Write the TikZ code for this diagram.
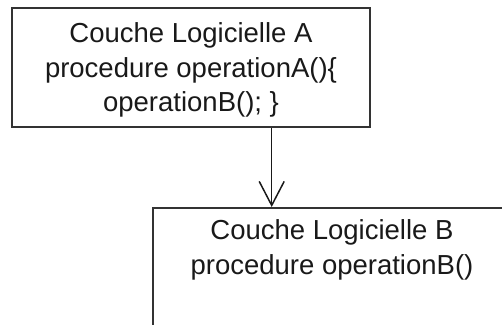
\documentclass[tikz,border=0pt]{standalone}
\usepackage{fontspec}
\setmainfont{Liberation Sans}
\usetikzlibrary{arrows.meta}
\begin{document}
\begin{tikzpicture}[x=1pt,y=-1pt,
  layerbox/.style={draw=black!80,line width=2pt,inner sep=0pt},
  layertext/.style={font=\fontsize{27.5}{34.5}\selectfont,align=center,inner sep=0pt,text=black!90},
  calls/.style={draw=black!90,line width=1.5pt,-{Straight Barb[length=24pt,width=25pt]}}]
  \useasboundingbox (0,0) rectangle (502,324);
  \clip (0,0) rectangle (502,324);
  % upper layer
  \node[layerbox,minimum width=358pt,minimum height=119pt,anchor=north west] (A) at (10.7,7) {};
  \node[layertext] (tA) at (191,70) {Couche Logicielle A\\procedure operationA()\{\\operationB(); \}};
  % lower layer (continues past the frame)
  \node[layerbox,minimum width=360pt,minimum height=200pt,anchor=north west] (B) at (152,207) {};
  \node[layertext] (tB) at (332,250) {Couche Logicielle B\\procedure operationB()};
  % call from A down to B
  \coordinate (ax) at (271.7,0);
  \draw[calls] (A.south -| ax) -- (B.north -| ax);
\end{tikzpicture}
\end{document}
